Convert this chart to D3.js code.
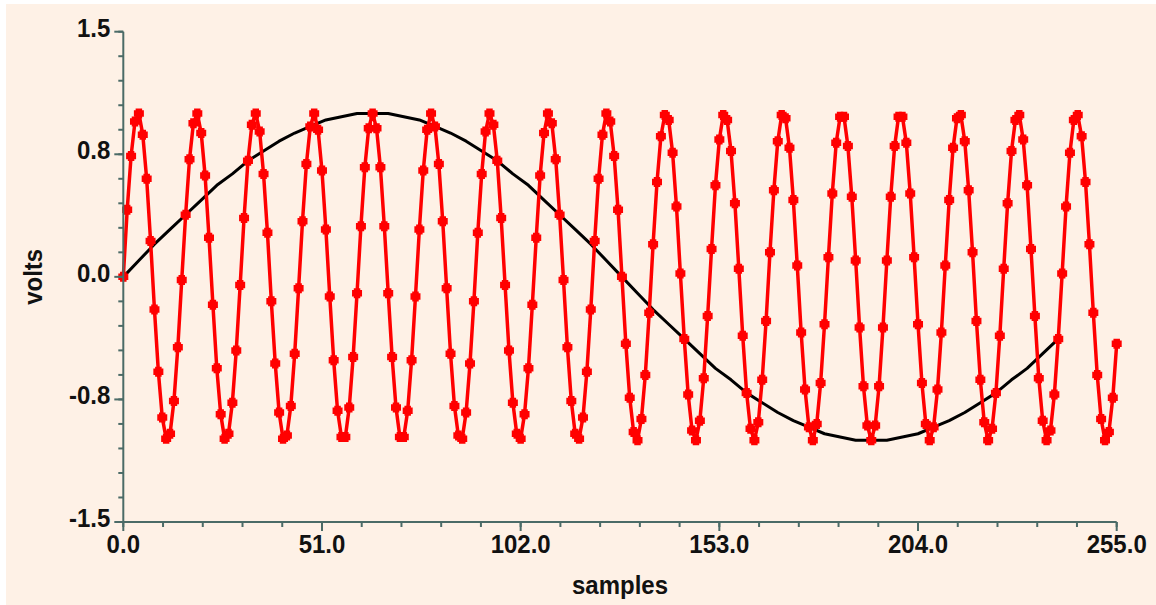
<!DOCTYPE html>
<html>
<head>
<meta charset="utf-8">
<script src="https://cdn.jsdelivr.net/npm/d3@7"></script>
<style>
  html, body { margin: 0; padding: 0; background: #ffffff; }
  svg { display: block; }
  text { font-family: "Liberation Sans", Arial, sans-serif; font-weight: bold; fill: #111; }
</style>
</head>
<body>
<svg id="chart" width="1156" height="605"></svg>
<script>
// Fast sine: one value per sample, 256 samples
const fastSamples = [
  0.00, 0.41, 0.74, 0.95, 1.00, 0.87, 0.60, 0.22, -0.20, -0.58, -0.86, -0.99, -0.96, -0.76, -0.43,
  -0.02, 0.38, 0.72, 0.94, 1.00, 0.88, 0.62, 0.24, -0.17, -0.56, -0.84, -0.99, -0.96, -0.77, -0.45,
  -0.05, 0.36, 0.71, 0.93, 1.00, 0.89, 0.63, 0.27, -0.15, -0.53, -0.83, -0.99, -0.97, -0.79, -0.47,
  -0.07, 0.34, 0.69, 0.92, 1.00, 0.90, 0.65, 0.29, -0.12, -0.51, -0.82, -0.98, -0.98, -0.80, -0.49,
  -0.10, 0.31, 0.67, 0.91, 1.00, 0.91, 0.67, 0.31, -0.10, -0.49, -0.80, -0.98, -0.98, -0.82, -0.51,
  -0.12, 0.29, 0.65, 0.90, 1.00, 0.92, 0.69, 0.34, -0.07, -0.47, -0.79, -0.97, -0.99, -0.83, -0.53,
  -0.15, 0.27, 0.63, 0.89, 1.00, 0.93, 0.71, 0.36, -0.05, -0.45, -0.77, -0.96, -0.99, -0.84, -0.56,
  -0.17, 0.24, 0.62, 0.88, 1.00, 0.94, 0.72, 0.38, -0.02, -0.43, -0.76, -0.96, -0.99, -0.86, -0.58,
  -0.20, 0.22, 0.60, 0.87, 1.00, 0.95, 0.74, 0.41, 0.00, -0.41, -0.74, -0.95, -1.00, -0.87, -0.60,
  -0.22, 0.20, 0.58, 0.86, 0.99, 0.96, 0.76, 0.43, 0.02, -0.38, -0.72, -0.94, -1.00, -0.88, -0.62,
  -0.24, 0.17, 0.56, 0.84, 0.99, 0.96, 0.77, 0.45, 0.05, -0.36, -0.71, -0.93, -1.00, -0.89, -0.63,
  -0.27, 0.15, 0.53, 0.83, 0.99, 0.97, 0.79, 0.47, 0.07, -0.34, -0.69, -0.92, -1.00, -0.90, -0.65,
  -0.29, 0.12, 0.51, 0.82, 0.98, 0.98, 0.80, 0.49, 0.10, -0.31, -0.67, -0.91, -1.00, -0.91, -0.67,
  -0.31, 0.10, 0.49, 0.80, 0.98, 0.98, 0.82, 0.51, 0.12, -0.29, -0.65, -0.90, -1.00, -0.92, -0.69,
  -0.34, 0.07, 0.47, 0.79, 0.97, 0.99, 0.83, 0.53, 0.15, -0.27, -0.63, -0.89, -1.00, -0.93, -0.71,
  -0.36, 0.05, 0.45, 0.77, 0.96, 0.99, 0.84, 0.56, 0.17, -0.24, -0.62, -0.88, -1.00, -0.94, -0.72,
  -0.38, 0.02, 0.43, 0.76, 0.96, 0.99, 0.86, 0.58, 0.20, -0.22, -0.60, -0.87, -1.00, -0.95, -0.74,
  -0.41
];

// Slow sine: sample index and value, every 4th sample up to 240
const slowIndex = [
  0, 4, 8, 12, 16, 20, 24, 28, 32, 36, 40, 44, 48, 52, 56, 60, 64,
  68, 72, 76, 80, 84, 88, 92, 96, 100, 104, 108, 112, 116, 120, 124, 128,
  132, 136, 140, 144, 148, 152, 156, 160, 164, 168, 172, 176, 180, 184, 188, 192,
  196, 200, 204, 208, 212, 216, 220, 224, 228, 232, 236, 240
];
const slowValues = [
  0.00, 0.10, 0.20, 0.29, 0.38, 0.47, 0.56, 0.63, 0.71, 0.77, 0.83, 0.88, 0.92, 0.96, 0.98, 1.00, 1.00,
  1.00, 0.98, 0.96, 0.92, 0.88, 0.83, 0.77, 0.71, 0.63, 0.56, 0.47, 0.38, 0.29, 0.20, 0.10, 0.00,
  -0.10, -0.20, -0.29, -0.38, -0.47, -0.56, -0.63, -0.71, -0.77, -0.83, -0.88, -0.92, -0.96, -0.98, -1.00, -1.00,
  -1.00, -0.98, -0.96, -0.92, -0.88, -0.83, -0.77, -0.71, -0.63, -0.56, -0.47, -0.38
];

// Axis ticks
const xMajorTicks = [0, 51, 102, 153, 204, 255];
const xTickLabels = ["0.0", "51.0", "102.0", "153.0", "204.0", "255.0"];
const xMinorStep = 10.2;
const yMajorTicks = [-1.5, -0.75, 0, 0.75, 1.5];
const yTickLabels = ["-1.5", "-0.8", "0.0", "0.8", "1.5"];
const yMinorStep = 0.15;

const svg = d3.select("#chart");
const W = 1156, H = 605;
const axisColor = "#4b6b67";

// panel background
svg.append("rect").attr("x", 6).attr("y", 4).attr("width", W - 6).attr("height", H - 4)
  .attr("fill", "#fef1e6");

const x = d3.scaleLinear().domain([0, 255]).range([123.3, 1116.7]);
const y = d3.scaleLinear().domain([-1.5, 1.5]).range([522, 31.7]);

// slow sine (black line, drawn underneath)
const slowPts = slowIndex.map((n, i) => [n, slowValues[i]]);
svg.append("path")
  .datum(slowPts)
  .attr("fill", "none")
  .attr("stroke", "#000")
  .attr("stroke-width", 3)
  .attr("stroke-linejoin", "round")
  .attr("d", d3.line().x(d => x(d[0])).y(d => y(d[1])));

// fast sine (red line with markers)
const fastPts = fastSamples.map((v, i) => [i, v]);
svg.append("path")
  .datum(fastPts)
  .attr("fill", "none")
  .attr("stroke", "#ff0000")
  .attr("stroke-width", 3.5)
  .attr("stroke-linejoin", "round")
  .attr("d", d3.line().x(d => x(d[0])).y(d => y(d[1])));

// blocky cross marker
const notchedSquare = {
  draw(ctx, size) {
    const h = Math.sqrt(size) / 2, c = h * 0.35;
    ctx.moveTo(-h + c, -h);
    ctx.lineTo(h - c, -h);
    ctx.lineTo(h - c, -h + c);
    ctx.lineTo(h, -h + c);
    ctx.lineTo(h, h - c);
    ctx.lineTo(h - c, h - c);
    ctx.lineTo(h - c, h);
    ctx.lineTo(-h + c, h);
    ctx.lineTo(-h + c, h - c);
    ctx.lineTo(-h, h - c);
    ctx.lineTo(-h, -h + c);
    ctx.lineTo(-h + c, -h + c);
    ctx.closePath();
  }
};
const marker = d3.symbol().type(notchedSquare).size(100);
svg.append("g").selectAll("path")
  .data(fastPts)
  .join("path")
  .attr("transform", d => `translate(${x(d[0])},${y(d[1])})`)
  .attr("d", marker)
  .attr("fill", "#ff0000");

// Y axis
const yAxisG = svg.append("g").attr("stroke", axisColor).attr("stroke-width", 2);
yAxisG.append("line")
  .attr("x1", x(0)).attr("x2", x(0))
  .attr("y1", y(1.5)).attr("y2", y(-1.5));
const yMinor = d3.range(0, 21).map(i => -1.5 + i * yMinorStep);
yAxisG.selectAll("line.minor")
  .data(yMinor)
  .join("line").attr("class", "minor")
  .attr("x1", x(0) - 5).attr("x2", x(0))
  .attr("y1", d => y(d)).attr("y2", d => y(d));
yAxisG.selectAll("line.major")
  .data(yMajorTicks)
  .join("line").attr("class", "major")
  .attr("x1", x(0) - 9).attr("x2", x(0))
  .attr("y1", d => y(d)).attr("y2", d => y(d));
svg.append("g").selectAll("text")
  .data(yMajorTicks)
  .join("text")
  .attr("transform", d => `translate(${x(0) - 13},${y(d) + 5}) scale(1,1.1)`)
  .attr("text-anchor", "end")
  .attr("font-size", 24)
  .text((d, i) => yTickLabels[i]);

// X axis
const xAxisG = svg.append("g").attr("stroke", axisColor).attr("stroke-width", 2);
xAxisG.append("line")
  .attr("x1", x(0) - 1).attr("x2", x(255))
  .attr("y1", y(-1.5)).attr("y2", y(-1.5));
const xMinor = d3.range(0, 26).map(i => i * xMinorStep);
xAxisG.selectAll("line.minor")
  .data(xMinor)
  .join("line").attr("class", "minor")
  .attr("x1", d => x(d)).attr("x2", d => x(d))
  .attr("y1", y(-1.5)).attr("y2", y(-1.5) + 5);
xAxisG.selectAll("line.major")
  .data(xMajorTicks)
  .join("line").attr("class", "major")
  .attr("x1", d => x(d)).attr("x2", d => x(d))
  .attr("y1", y(-1.5)).attr("y2", y(-1.5) + 9);
svg.append("g").selectAll("text")
  .data(xMajorTicks)
  .join("text")
  .attr("transform", d => `translate(${x(d)},${y(-1.5) + 31}) scale(1,1.1)`)
  .attr("text-anchor", "middle")
  .attr("font-size", 24)
  .text((d, i) => xTickLabels[i]);

// axis titles
svg.append("text")
  .attr("transform", `translate(${(x(0) + x(255)) / 2},594) scale(1,1.1)`)
  .attr("text-anchor", "middle")
  .attr("font-size", 24)
  .text("samples");
svg.append("text")
  .attr("transform", `translate(42,${y(0)}) rotate(-90) scale(1,1.1)`)
  .attr("text-anchor", "middle")
  .attr("font-size", 24)
  .text("volts");
</script>
</body>
</html>
